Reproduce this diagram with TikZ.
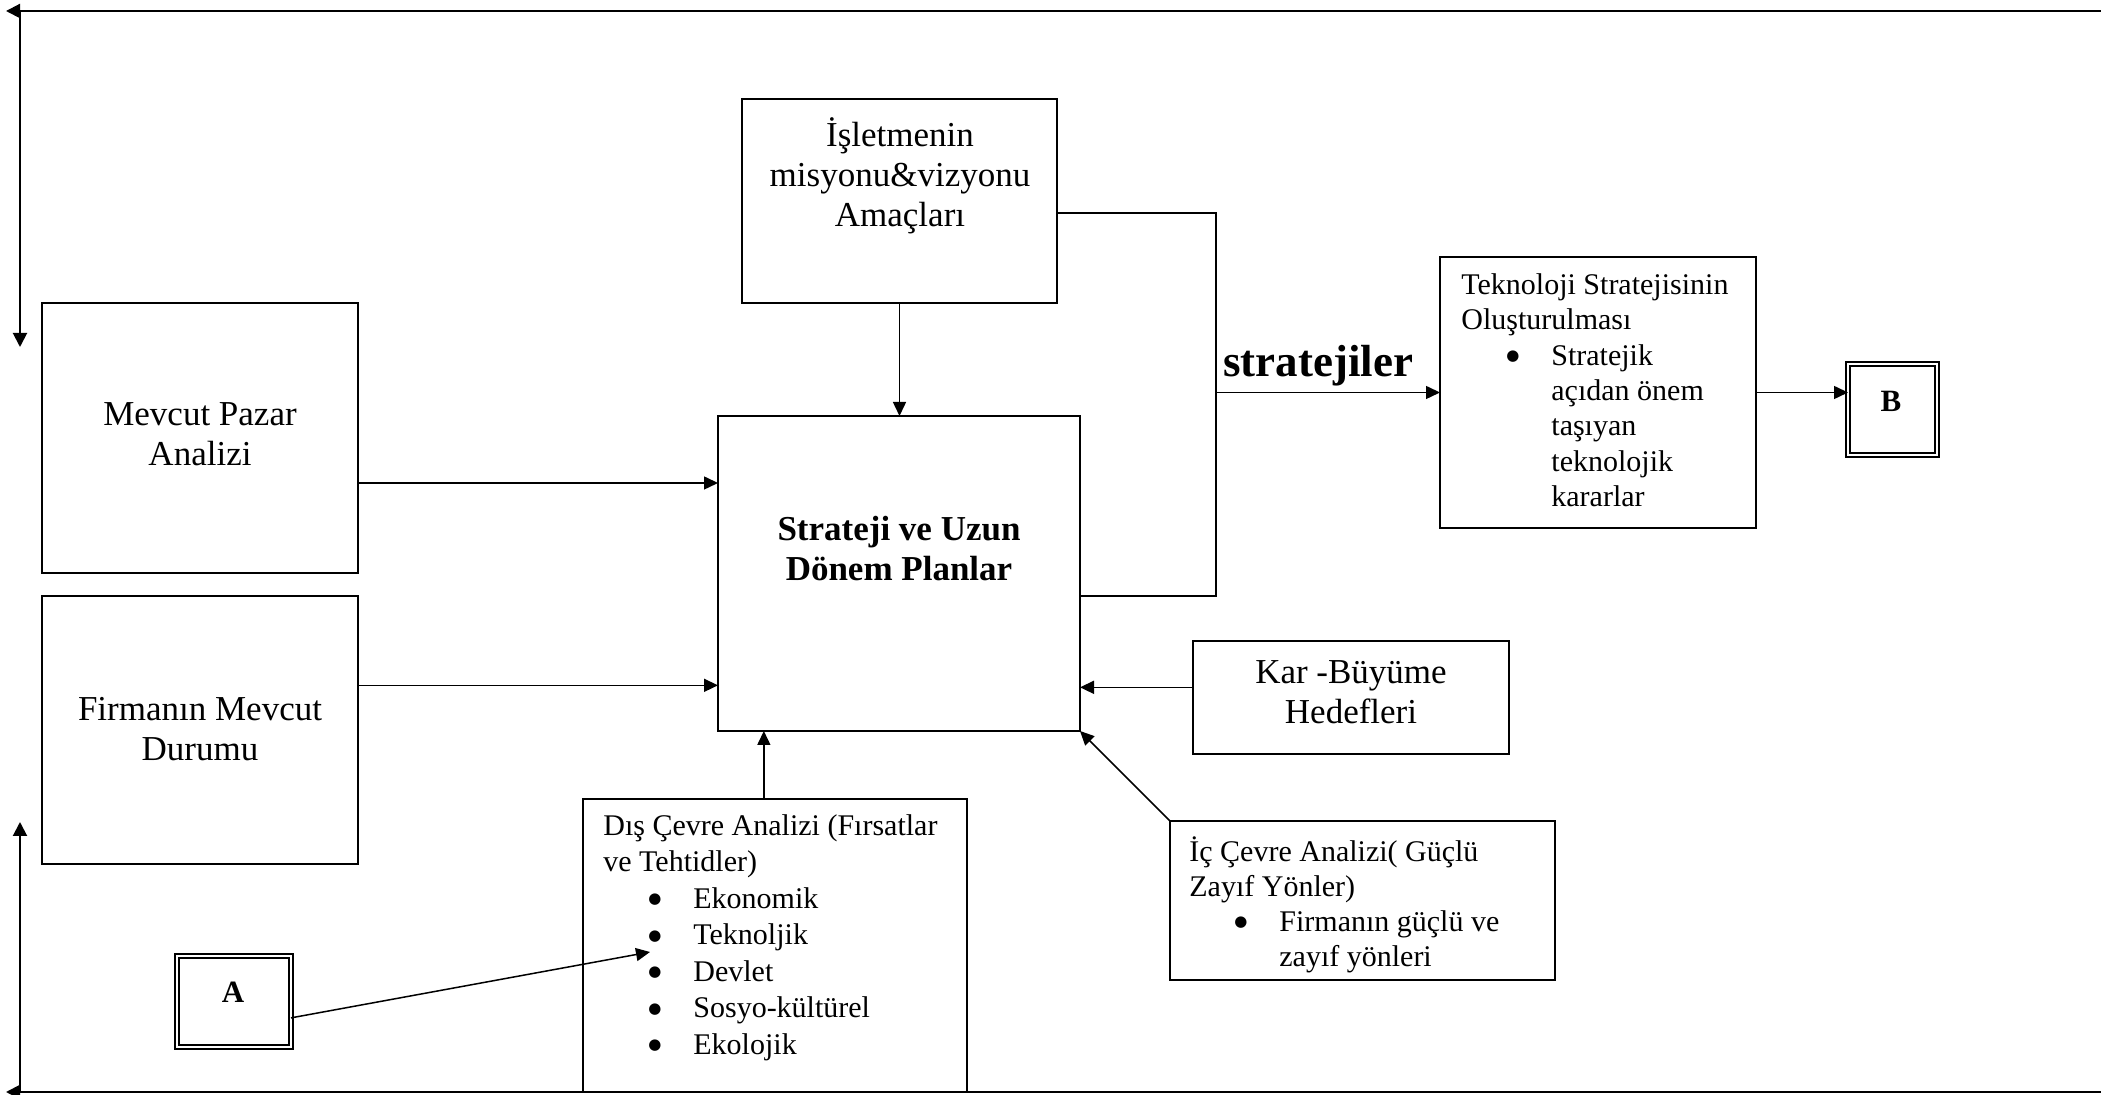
\documentclass[tikz,border=0pt]{standalone}
\usepackage{fontspec}
\setmainfont{Liberation Serif}
\newfontfamily\symfont{DejaVu Sans}
\usetikzlibrary{arrows.meta,calc}
% strut as tall as one line, so a node's top sits one baselineskip above its first baseline
\newcommand{\topstrut}{\rule{0pt}{\baselineskip}}
% bullet item and its continuation indent
\newcommand{\bigbullet}{\raisebox{2.2pt}{\symfont\fontsize{7.5}{9}\selectfont ●}}
\newcommand{\itm}{\hspace*{22.5pt}\makebox[22.5pt][l]{\bigbullet}}
\newcommand{\itc}{\hspace*{45pt}}

\begin{document}
\begin{tikzpicture}[x=0.5pt,y=-0.5pt,
  box/.style={draw, line width=0.75pt, inner sep=0pt, outer sep=0pt, anchor=north west},
  wh/.style 2 args={minimum width=#1*0.5pt, minimum height=#2*0.5pt},
  dbox/.style={box, double, double distance=1.4pt, line width=0.8pt},
  big/.style={font=\fontsize{17.5}{20}\selectfont},
  bigbold/.style={font=\bfseries\fontsize{17.5}{20}\selectfont},
  smalltext/.style={font=\fontsize{15}{#1}\selectfont},
  txt/.style={inner sep=0pt, anchor=north, align=center},
  ltxt/.style={inner sep=0pt, anchor=north west, align=left},
  conn/.style={line width=0.75pt},
  arr/.style={conn, -{Triangle[length=7pt,width=6.5pt]}},
  frameline/.style={line width=1pt},
  framearr/.style={frameline, -{Triangle[length=7pt,width=7pt]}},
]
\fill[white] (0,0) rectangle (2101,1095);
\useasboundingbox (0,0) rectangle (2101,1095);

% ---- boxes ----
\node[box, wh={316}{270}] (mevcut)  at (42,303)  {};
\node[box, wh={316}{268}] (firma)   at (42,596)  {};
\node[box, wh={315}{204}] (isletme) at (742,99)  {};
\node[box, wh={362}{315}] (strat)   at (718,416) {};
\node[box, wh={316}{113}] (kar)     at (1193,641) {};
\node[box, wh={316}{271}] (tekno)   at (1440,257) {};
\node[box, wh={384}{293}] (dis)     at (583,799) {};
\node[box, wh={385}{159}] (ic)      at (1170,821) {};
\node[dbox, wh={114}{91}] (boxA)    at (177,956) {};
\node[dbox, wh={89}{91}]  (boxB)    at (1848,364) {};

% ---- texts ----
\node[txt, big] (tMevcut) at (200,385) {\topstrut Mevcut Pazar\\Analizi};
\node[txt, big] (tFirma) at (200,680) {\topstrut Firmanın Mevcut\\Durumu};
\node[txt, big] (tIsletme) at (900,106) {\topstrut İşletmenin\\misyonu\&vizyonu\\Amaçları};
\node[txt, bigbold] (tStrat) at (899,500) {\topstrut Strateji ve Uzun\\Dönem Planlar};
\node[txt, big] (tKar) at (1351,643) {\topstrut Kar -Büyüme\\Hedefleri};
\node[ltxt, smalltext=18.25] (tDis) at (603,798.5) {\topstrut Dış Çevre Analizi (Fırsatlar\\
  ve Tehtidler)\\
  \itm Ekonomik\\
  \itm Teknoljik\\
  \itm Devlet\\
  \itm Sosyo-kültürel\\
  \itm Ekolojik};
\node[ltxt, smalltext=17.65] (tTekno) at (1461,259) {\topstrut Teknoloji Stratejisinin\\
  Oluşturulması\\
  \itm Stratejik\\
  \itc açıdan önem\\
  \itc taşıyan\\
  \itc teknolojik\\
  \itc kararlar};
\node[ltxt, smalltext=17.5] (tIc) at (1189,826) {\topstrut İç Çevre Analizi( Güçlü\\
  Zayıf Yönler)\\
  \itm Firmanın güçlü ve\\
  \itc zayıf yönleri};
\node[anchor=base west, inner sep=0pt, font=\bfseries\fontsize{22.5}{27}\selectfont] (lblStr) at (1223,377) {stratejiler};
\node[anchor=base, inner sep=0pt, font=\bfseries\fontsize{15.5}{18}\selectfont] (lblA) at (233,1003) {A};
\node[anchor=base, inner sep=0pt, font=\bfseries\fontsize{15.5}{18}\selectfont] (lblB) at (1891,412) {B};

% ---- connectors ----
\draw[arr] ($(mevcut.north east)!2/3!(mevcut.south east)$) coordinate (m1) -- (m1 -| strat.west);
\draw[arr] ($(firma.north east)!1/3!(firma.south east)$) coordinate (f1) -- (f1 -| strat.west);
\draw[arr] (isletme.south) -- (isletme.south |- strat.north);
\draw[arr] ($(dis.north west)!0.471!(dis.north east)$) coordinate (d1) -- (d1 |- strat.south);
\draw[arr] ($(kar.north west)!0.41!(kar.south west)$) coordinate (k1) -- (k1 -| strat.east);
\draw[arr] (ic.north west) -- (strat.south east);

\coordinate (jx) at (1216,392.5);
\draw[conn] ($(strat.north east)!0.571!(strat.south east)$) -| (jx)
  |- ($(isletme.north east)!0.559!(isletme.south east)$);
\draw[arr] (jx) -- (tekno.west);
\draw[arr] (tekno.east) -- (tekno.east -| boxB.west);

\coordinate (aTip) at (650,952);
\draw[arr] ($(boxA.north east)!0.68!(boxA.south east)$) -- (aTip);

% ---- surrounding frame ----
\coordinate (topR) at (2110,11);
\coordinate (topL) at (6,11);
\coordinate (leftTop) at (20,11);
\coordinate (leftTopEnd) at (20,347);
\coordinate (botR) at (2110,1092);
\coordinate (botL) at (6,1092);
\coordinate (leftBot) at (20,1092);
\coordinate (leftBotEnd) at (20,822);
\draw[framearr] (topR) -- (topL);
\draw[framearr] (leftTop) -- (leftTopEnd);
\draw[framearr] (botR) -- (botL);
\draw[framearr] (leftBot) -- (leftBotEnd);
\end{tikzpicture}
\end{document}
